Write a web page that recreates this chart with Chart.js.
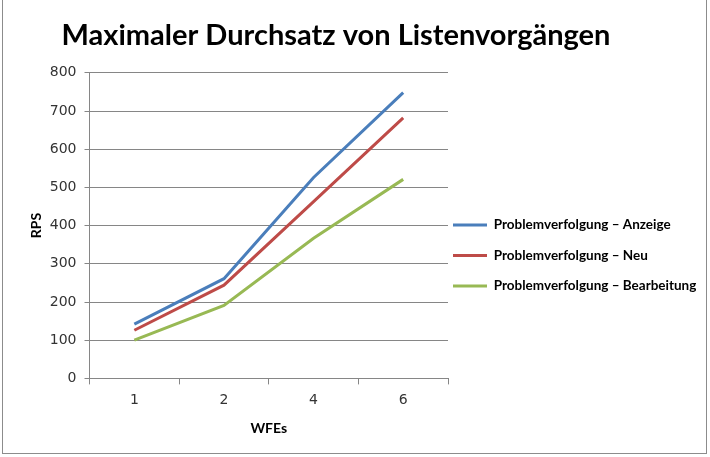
<!DOCTYPE html>
<html>
<head>
  <meta charset="utf-8">
  <title>Maximaler Durchsatz von Listenvorgängen</title>
  <script src="https://cdn.jsdelivr.net/npm/chart.js@4.4.1/dist/chart.umd.min.js"></script>
  <style>
    body { margin: 0; background: #fff; }
    #wrap { position: relative; width: 710px; height: 457px; }
    #frame { position: absolute; left: 2px; top: -2px; width: 703px; height: 454px; border: 1px solid #8c8c8c; pointer-events: none; }
  </style>
</head>
<body>
<div id="wrap">
  <canvas id="canvas" width="710" height="457"></canvas>
  <div id="frame"></div>
</div>
<script>
// WFE-Anzahl (Kategorien)
var wfes = ['1', '2', '4', '6'];
// RPS je Szenario
var anzeige = [142, 261, 526, 748];
var neu = [126, 244, 463, 682];
var bearbeitung = [100, 191, 367, 521];

var fontName = 'Lato, "Open Sans", sans-serif';
var tickFont = '"DejaVu Sans", Verdana, sans-serif';

// Titel etwas nach links, Legende nach unten/links schieben wie im Original
var layoutTweak = {
    id: 'layoutTweak',
    afterLayout: function(chart) {
        chart.titleBlock.left = 0;
        chart.titleBlock.right = 672;
        chart.legend.top += 31;
        chart.legend.bottom += 31;
        chart.legend.left -= 12;
        chart.legend.right -= 12;
    }
};

var config = {
    type: 'line',
    data: {
        labels: wfes,
        datasets: [{
            label: 'Problemverfolgung – Anzeige',
            data: anzeige,
            borderColor: '#4a7ebb',
            backgroundColor: '#4a7ebb'
        }, {
            label: 'Problemverfolgung – Neu',
            data: neu,
            borderColor: '#be4b48',
            backgroundColor: '#be4b48'
        }, {
            label: 'Problemverfolgung – Bearbeitung',
            data: bearbeitung,
            borderColor: '#98b954',
            backgroundColor: '#98b954'
        }]
    },
    options: {
        responsive: false,
        animation: false,
        elements: {
            line: { borderWidth: 3, tension: 0 },
            point: { radius: 0, hoverRadius: 0, borderWidth: 3 }
        },
        layout: {
            padding: { left: 28, right: 2, top: 8, bottom: 16 }
        },
        plugins: {
            title: {
                display: true,
                text: 'Maximaler Durchsatz von Listenvorgängen',
                color: '#000',
                font: { family: fontName, size: 29, weight: 'bold' },
                padding: { top: 10, bottom: 20 }
            },
            legend: {
                position: 'right',
                align: 'center',
                maxWidth: 260,
                labels: {
                    usePointStyle: true,
                    pointStyle: 'line',
                    pointStyleWidth: 34,
                    color: '#000',
                    padding: 17,
                    font: { family: fontName, size: 13.5, weight: 'bold' }
                }
            },
            tooltip: { enabled: false }
        },
        scales: {
            x: {
                offset: true,
                grid: {
                    offset: true,
                    drawOnChartArea: false,
                    drawTicks: true,
                    tickLength: 6,
                    color: '#868686'
                },
                border: { color: '#868686', width: 1 },
                ticks: { color: '#333', padding: 8, font: { family: tickFont, size: 14 } },
                title: {
                    display: true,
                    text: 'WFEs',
                    color: '#000',
                    padding: { top: 3 },
                    font: { family: fontName, size: 14, weight: 'bold' }
                }
            },
            y: {
                min: 0,
                max: 800,
                ticks: { stepSize: 100, color: '#333', padding: 8, font: { family: tickFont, size: 14 } },
                grid: { color: '#868686', tickLength: 5 },
                border: { color: '#868686', width: 1 },
                title: {
                    display: true,
                    text: 'RPS',
                    color: '#000',
                    padding: { top: 0, bottom: -3 },
                    font: { family: fontName, size: 14, weight: 'bold' }
                }
            }
        }
    },
    plugins: [layoutTweak]
};

window.myChart = new Chart(document.getElementById('canvas'), config);
</script>
</body>
</html>
